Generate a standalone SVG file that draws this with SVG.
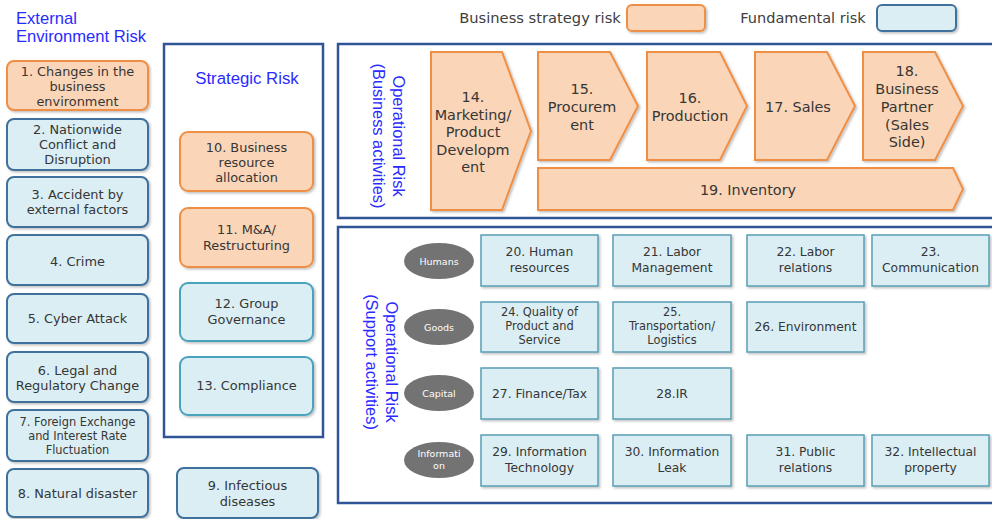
<svg xmlns="http://www.w3.org/2000/svg" width="992" height="519" viewBox="0 0 992 519">
<style>
.t{font-family:"DejaVu Sans",Verdana,sans-serif;fill:#363636;text-anchor:middle}
.h{font-family:"Liberation Sans",Arial,sans-serif;fill:#2a2aff}
.or{fill:#fbd5b7;stroke:#ef8f45;stroke-width:2}
.bl{fill:#dbeef4;stroke:#41719c;stroke-width:2}
.tl{fill:#dbeef4;stroke:#4aa3bd;stroke-width:2}
.gb{fill:#dbeef4;stroke:#5a9fb5;stroke-width:1.5}
.fr{fill:#fff;stroke:#2f5597;stroke-width:2.5}
.el{fill:#737373}
.et{font-family:"DejaVu Sans",Verdana,sans-serif;fill:#fff;font-size:9.5px;text-anchor:middle}
.s13{font-size:12.9px}
.s12{font-size:12.3px}
.s11{font-size:11.4px}
.s14{font-size:14.4px}
</style>
<defs>
<filter id="sh" x="-10%" y="-10%" width="130%" height="130%"><feDropShadow dx="1.5" dy="1.5" stdDeviation="1" flood-color="#000" flood-opacity="0.25"/></filter>
</defs>

<g id="legend">
<text class="t" x="540" y="23" style="font-size:14.7px;fill:#404040">Business strategy risk</text>
<rect class="or" x="627" y="5" width="78" height="26" rx="5" filter="url(#sh)"/>
<text class="t" x="803" y="23" style="font-size:14.5px;fill:#404040">Fundamental risk</text>
<rect class="bl" x="877" y="5" width="79" height="26" rx="5" filter="url(#sh)"/>
</g>

<g id="external-title">
<text class="h" x="16" y="24" style="font-size:16.6px">External</text>
<text class="h" x="16" y="42" style="font-size:16.6px">Environment Risk</text>
</g>

<g id="n1"><rect class="or" x="7" y="61" width="141" height="49" rx="7" filter="url(#sh)"/>
<text class="t s13" x="77.5" y="76">1. Changes in the</text><text class="t s13" x="77.5" y="91">business</text><text class="t s13" x="77.5" y="106">environment</text></g>
<g id="n2"><rect class="bl" x="7" y="119" width="141" height="51" rx="7" filter="url(#sh)"/>
<text class="t s13" x="77.5" y="134">2. Nationwide</text><text class="t s13" x="77.5" y="149">Conflict and</text><text class="t s13" x="77.5" y="164">Disruption</text></g>
<g id="n3"><rect class="bl" x="7" y="177" width="141" height="50" rx="7" filter="url(#sh)"/>
<text class="t s13" x="77.5" y="199">3. Accident by</text><text class="t s13" x="77.5" y="214">external factors</text></g>
<g id="n4"><rect class="bl" x="7" y="235" width="141" height="50" rx="7" filter="url(#sh)"/>
<text class="t s13" x="77.5" y="266">4. Crime</text></g>
<g id="n5"><rect class="bl" x="7" y="294" width="141" height="49" rx="7" filter="url(#sh)"/>
<text class="t s13" x="77.5" y="323">5. Cyber Attack</text></g>
<g id="n6"><rect class="bl" x="7" y="352" width="141" height="50" rx="7" filter="url(#sh)"/>
<text class="t s13" x="77.5" y="375">6. Legal and</text><text class="t s13" x="77.5" y="390">Regulatory Change</text></g>
<g id="n7"><rect class="bl" x="7" y="410" width="141" height="51" rx="7" filter="url(#sh)"/>
<text class="t s11" x="77.5" y="426">7. Foreign Exchange</text><text class="t s11" x="77.5" y="440">and Interest Rate</text><text class="t s11" x="77.5" y="454">Fluctuation</text></g>
<g id="n8"><rect class="bl" x="7" y="469" width="141" height="48" rx="7" filter="url(#sh)"/>
<text class="t s13" x="77.5" y="498">8. Natural disaster</text></g>

<g id="strategic">
<rect class="fr" x="164" y="44" width="159" height="393"/>
<text class="h" x="247" y="84" style="font-size:16.8px;text-anchor:middle">Strategic Risk</text>
</g>
<g id="n10"><rect class="or" x="180" y="132" width="133" height="59" rx="8" filter="url(#sh)"/>
<text class="t s13" x="246.5" y="152">10. Business</text><text class="t s13" x="246.5" y="167">resource</text><text class="t s13" x="246.5" y="182">allocation</text></g>
<g id="n11"><rect class="or" x="180" y="208" width="133" height="59" rx="8" filter="url(#sh)"/>
<text class="t s13" x="246.5" y="234">11. M&amp;A/</text><text class="t s13" x="246.5" y="250">Restructuring</text></g>
<g id="n12"><rect class="tl" x="180" y="283" width="133" height="58" rx="8" filter="url(#sh)"/>
<text class="t s13" x="246.5" y="308">12. Group</text><text class="t s13" x="246.5" y="324">Governance</text></g>
<g id="n13"><rect class="tl" x="180" y="357" width="133" height="58" rx="8" filter="url(#sh)"/>
<text class="t s13" x="246.5" y="390">13. Compliance</text></g>
<g id="n9"><rect class="bl" x="177" y="468" width="141" height="50" rx="7" filter="url(#sh)"/>
<text class="t s13" x="247.5" y="490">9. Infectious</text><text class="t s13" x="247.5" y="506">diseases</text></g>

<g id="op-business">
<rect class="fr" x="338" y="44" width="670" height="174"/>
<g transform="translate(393,136) rotate(90)"><text class="h" x="0" y="0" style="font-size:16.4px;text-anchor:middle">Operational Risk</text></g>
<g transform="translate(373,136) rotate(90)"><text class="h" x="0" y="0" style="font-size:16.4px;text-anchor:middle">(Business activities)</text></g>
</g>
<g id="n14"><polygon class="or" points="431,52 502,52 531,131 502,210 431,210" filter="url(#sh)"/>
<text class="t s14" x="473" y="102">14.</text><text class="t s14" x="473" y="119.5">Marketing/</text><text class="t s14" x="473" y="137">Product</text><text class="t s14" x="473" y="154.5">Developm</text><text class="t s14" x="473" y="172">ent</text></g>
<g id="n15"><polygon class="or" points="538,52 610,52 638,106 610,160 538,160" filter="url(#sh)"/>
<text class="t s14" x="582" y="94">15.</text><text class="t s14" x="582" y="112">Procurem</text><text class="t s14" x="582" y="130">ent</text></g>
<g id="n16"><polygon class="or" points="647,52 720,52 747,106 720,160 647,160" filter="url(#sh)"/>
<text class="t s14" x="690" y="103">16.</text><text class="t s14" x="690" y="121">Production</text></g>
<g id="n17"><polygon class="or" points="755,52 827,52 855,106 827,160 755,160" filter="url(#sh)"/>
<text class="t s14" x="798" y="112">17. Sales</text></g>
<g id="n18"><polygon class="or" points="863,52 935,52 963,106 935,160 863,160" filter="url(#sh)"/>
<text class="t s14" x="907" y="76">18.</text><text class="t s14" x="907" y="94">Business</text><text class="t s14" x="907" y="112">Partner</text><text class="t s14" x="907" y="130">(Sales</text><text class="t s14" x="907" y="147">Side)</text></g>
<g id="n19"><polygon class="or" points="538,168 953,168 963,189 953,210 538,210" filter="url(#sh)"/>
<text class="t s14" x="748" y="195">19. Inventory</text></g>

<g id="op-support">
<rect class="fr" x="338" y="227" width="670" height="276"/>
<g transform="translate(386,362) rotate(90)"><text class="h" x="0" y="0" style="font-size:16.4px;text-anchor:middle">Operational Risk</text></g>
<g transform="translate(366,362) rotate(90)"><text class="h" x="0" y="0" style="font-size:16.4px;text-anchor:middle">(Support activities)</text></g>
</g>
<g id="cat-humans"><ellipse class="el" cx="439" cy="261" rx="35" ry="18"/><text class="et" x="439" y="264.5">Humans</text></g>
<g id="cat-goods"><ellipse class="el" cx="439" cy="327" rx="35" ry="18"/><text class="et" x="439" y="330.5">Goods</text></g>
<g id="cat-capital"><ellipse class="el" cx="439" cy="393" rx="35" ry="18"/><text class="et" x="439" y="396.5">Capital</text></g>
<g id="cat-information"><ellipse class="el" cx="439" cy="460" rx="35" ry="18"/><text class="et" x="439" y="457">Informati</text><text class="et" x="439" y="469">on</text></g>

<g id="n20"><rect class="gb" x="481" y="235" width="117" height="51" filter="url(#sh)"/>
<text class="t s12" x="539.5" y="256">20. Human</text><text class="t s12" x="539.5" y="272">resources</text></g>
<g id="n21"><rect class="gb" x="613" y="235" width="118" height="51" filter="url(#sh)"/>
<text class="t s12" x="672" y="256">21. Labor</text><text class="t s12" x="672" y="272">Management</text></g>
<g id="n22"><rect class="gb" x="747" y="235" width="117" height="51" filter="url(#sh)"/>
<text class="t s12" x="805.5" y="256">22. Labor</text><text class="t s12" x="805.5" y="272">relations</text></g>
<g id="n23"><rect class="gb" x="872" y="235" width="117" height="51" filter="url(#sh)"/>
<text class="t s12" x="930.5" y="256">23.</text><text class="t s12" x="930.5" y="272">Communication</text></g>
<g id="n24"><rect class="gb" x="481" y="302" width="117" height="50" filter="url(#sh)"/>
<text class="t s11" x="539.5" y="316">24. Quality of</text><text class="t s11" x="539.5" y="330">Product and</text><text class="t s11" x="539.5" y="344">Service</text></g>
<g id="n25"><rect class="gb" x="613" y="302" width="118" height="50" filter="url(#sh)"/>
<text class="t s11" x="672" y="316">25.</text><text class="t s11" x="672" y="330">Transportation/</text><text class="t s11" x="672" y="344">Logistics</text></g>
<g id="n26"><rect class="gb" x="747" y="302" width="117" height="50" filter="url(#sh)"/>
<text class="t s12" x="805.5" y="331">26. Environment</text></g>
<g id="n27"><rect class="gb" x="481" y="368" width="117" height="51" filter="url(#sh)"/>
<text class="t s12" x="539.5" y="398">27. Finance/Tax</text></g>
<g id="n28"><rect class="gb" x="613" y="368" width="118" height="51" filter="url(#sh)"/>
<text class="t s12" x="672" y="398">28.IR</text></g>
<g id="n29"><rect class="gb" x="481" y="435" width="117" height="51" filter="url(#sh)"/>
<text class="t s12" x="539.5" y="456">29. Information</text><text class="t s12" x="539.5" y="472">Technology</text></g>
<g id="n30"><rect class="gb" x="613" y="435" width="118" height="51" filter="url(#sh)"/>
<text class="t s12" x="672" y="456">30. Information</text><text class="t s12" x="672" y="472">Leak</text></g>
<g id="n31"><rect class="gb" x="747" y="435" width="117" height="51" filter="url(#sh)"/>
<text class="t s12" x="805.5" y="456">31. Public</text><text class="t s12" x="805.5" y="472">relations</text></g>
<g id="n32"><rect class="gb" x="872" y="435" width="117" height="51" filter="url(#sh)"/>
<text class="t s12" x="930.5" y="456">32. Intellectual</text><text class="t s12" x="930.5" y="472">property</text></g>

<g id="connectors"></g>
</svg>
